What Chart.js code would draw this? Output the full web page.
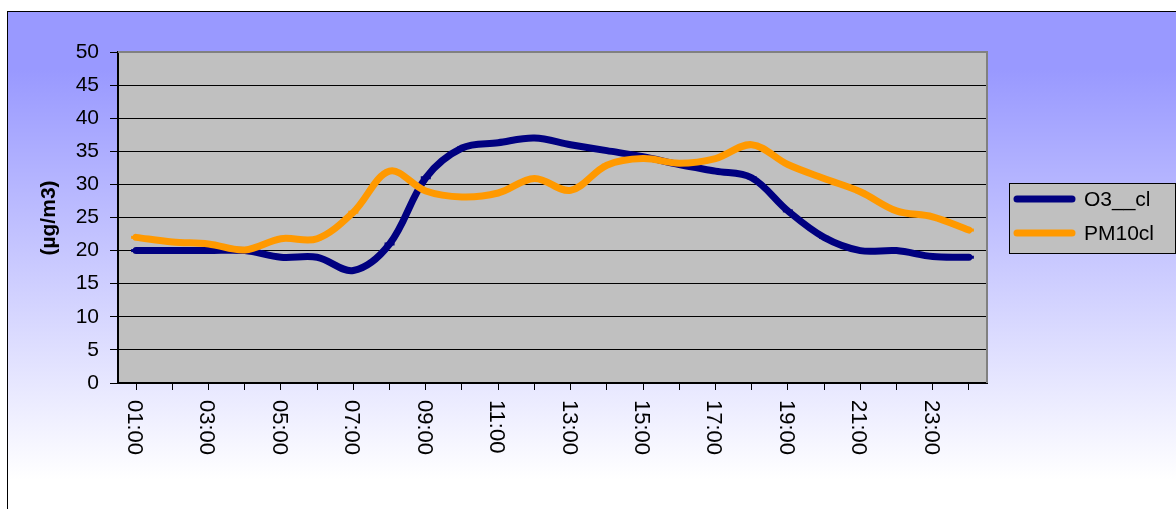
<!DOCTYPE html>
<html>
<head>
<meta charset="utf-8">
<script src="https://cdn.jsdelivr.net/npm/chart.js@4.4.0/dist/chart.umd.min.js"></script>
<style>
  html, body { margin: 0; padding: 0; background: #fff; }
  canvas { display: block; }
</style>
</head>
<body>
<canvas id="airChart" width="1176" height="509"></canvas>
<script>
// ── Data ──
const hours = ['01:00','02:00','03:00','04:00','05:00','06:00','07:00','08:00','09:00','10:00','11:00','12:00',
               '13:00','14:00','15:00','16:00','17:00','18:00','19:00','20:00','21:00','22:00','23:00','24:00'];
const o3Values   = [20, 20, 20, 20, 19, 19, 17, 21, 31, 35.5, 36.3, 37, 36, 35.1, 34.2, 33, 32, 31, 26, 22, 20, 20, 19.1, 19];
const pm10Values = [22, 21.3, 21, 20.1, 21.8, 21.8, 25.8, 32, 29, 28.1, 28.7, 30.9, 29.1, 32.9, 33.9, 33.2, 33.9, 36, 33, 30.9, 28.9, 26, 25.1, 23.1];
const seriesNames = ['O3__cl', 'PM10cl'];
const yTitle = '(µg/m3)';

(function () {
  'use strict';

  const C = {
    font: "'Liberation Sans', Arial, sans-serif",
    navy: '#000080',
    orange: '#FF9900',
    plot: '#C0C0C0',
    ink: '#000000',
    frame: '#808080',
  };

  // ── page background, frame, plot fill ──
  const backdrop = {
    id: 'backdrop',
    beforeDraw(chart) {
      const { ctx, chartArea: a } = chart;
      ctx.save();
      ctx.fillStyle = '#fff';
      ctx.fillRect(0, 0, chart.width, chart.height);
      const g = ctx.createLinearGradient(0, 70, 0, 480);
      g.addColorStop(0, '#9999FF');
      g.addColorStop(1, '#FFFFFF');
      ctx.fillStyle = g;
      ctx.fillRect(7, 11, chart.width, chart.height);
      ctx.strokeStyle = '#000';
      ctx.lineWidth = 1;
      ctx.strokeRect(7.5, 11.5, chart.width + 10, chart.height + 10);
      ctx.fillStyle = C.plot;
      ctx.fillRect(a.left, a.top, a.right - a.left, a.bottom - a.top);
      ctx.restore();
    }
  };

  // ── labels, frame edges, legend ──
  const extras = {
    id: 'extras',
    afterDraw(chart) {
      const { ctx, chartArea: a } = chart;
      const xs = chart.scales.x;
      ctx.save();

      // grey top / right frame of the plot
      ctx.strokeStyle = C.frame;
      ctx.lineWidth = 2;
      ctx.beginPath();
      ctx.moveTo(a.left, a.top);
      ctx.lineTo(a.right, a.top);
      ctx.lineTo(a.right, a.bottom);
      ctx.stroke();

      // x labels, every other hour, reading downward
      ctx.fillStyle = C.ink;
      ctx.font = `22px ${C.font}`;
      ctx.textAlign = 'left';
      ctx.textBaseline = 'middle';
      hours.forEach((h, i) => {
        if (i % 2) return;
        ctx.save();
        ctx.translate(xs.getPixelForValue(i) - 2, 400);
        ctx.rotate(Math.PI / 2);
        ctx.fillText(h, 0, 0);
        ctx.restore();
      });

      // y title
      ctx.save();
      ctx.font = `bold 21px ${C.font}`;
      ctx.textAlign = 'center';
      ctx.translate(49, 218);
      ctx.rotate(-Math.PI / 2);
      ctx.fillText(yTitle, 0, 0);
      ctx.restore();

      // legend
      ctx.fillStyle = C.plot;
      ctx.fillRect(1009, 183, 167, 70);
      ctx.strokeStyle = '#000';
      ctx.lineWidth = 1;
      ctx.strokeRect(1009.5, 183.5, 166, 70);
      ctx.lineCap = 'round';
      ctx.lineWidth = 7;
      ctx.font = `21px ${C.font}`;
      [C.navy, C.orange].forEach((col, i) => {
        const y = 199 + i * 34;
        ctx.strokeStyle = col;
        ctx.beginPath();
        ctx.moveTo(1017, y);
        ctx.lineTo(1072, y);
        ctx.stroke();
        ctx.fillStyle = C.ink;
        ctx.fillText(seriesNames[i], 1084, y + 1);
      });
      ctx.restore();
    }
  };

  function initAirChart() {
    const canvas = document.getElementById('airChart');
    const line = (label, data, color, order) => ({
      label, data, order,
      borderColor: color,
      backgroundColor: color,
      borderWidth: 7,
      borderCapStyle: 'round',
      tension: 0.35,
      pointStyle: 'line',
      pointRadius: 5,
      pointBorderWidth: 3,
      pointBorderColor: color,
    });

    new Chart(canvas, {
      type: 'line',
      data: {
        labels: hours,
        datasets: [
          line(seriesNames[0], o3Values, C.navy, 2),
          line(seriesNames[1], pm10Values, C.orange, 1),
        ]
      },
      options: {
        responsive: false,
        animation: false,
        events: [],
        layout: { padding: { left: 0, right: 189, top: 52, bottom: 0 } },
        plugins: { legend: { display: false }, tooltip: { enabled: false } },
        scales: {
          x: {
            offset: true,
            grid: { drawOnChartArea: false, drawTicks: true, tickLength: 7, color: C.ink, lineWidth: 1 },
            border: { display: true, color: C.ink, width: 2 },
            ticks: { display: false },
            afterFit(s) { s.height = 126; }
          },
          y: {
            min: 0,
            max: 50,
            ticks: {
              stepSize: 5,
              padding: 11,
              color: C.ink,
              font: { size: 21, family: C.font }
            },
            grid: { color: C.ink, lineWidth: 1, tickLength: 8 },
            border: { display: true, color: C.ink, width: 2 },
            afterFit(s) { s.width = 118; }
          }
        }
      },
      plugins: [backdrop, extras]
    });
  }

  initAirChart();
})();
</script>
</body>
</html>
